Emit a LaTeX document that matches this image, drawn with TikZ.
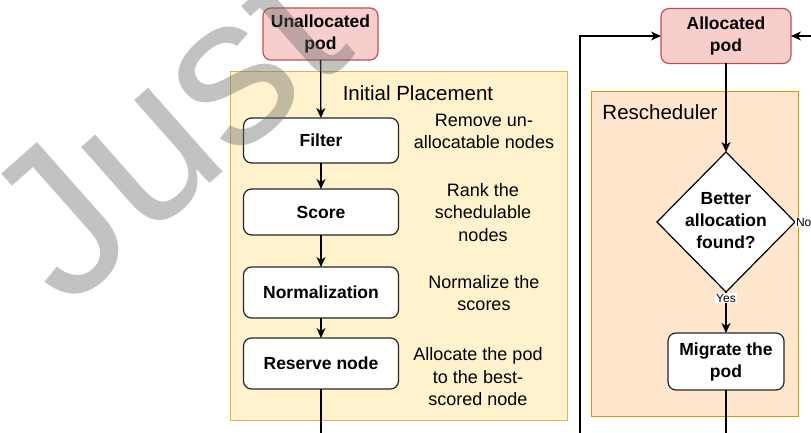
\documentclass[tikz,border=0pt]{standalone}
\usepackage{fontspec}
\setmainfont{Liberation Sans}
\usetikzlibrary{shapes.geometric,arrows.meta}

\definecolor{podfill}{HTML}{F8CECC}
\definecolor{podline}{HTML}{B85450}
\definecolor{initfill}{HTML}{FFF2CC}
\definecolor{initline}{HTML}{D6B656}
\definecolor{reschfill}{HTML}{FFE6CC}
\definecolor{reschline}{HTML}{D79B00}

\tikzset{
  every node/.style={inner sep=0pt, outer sep=0pt},
  boldtxt/.style={font=\fontsize{17.5}{22}\selectfont\bfseries, align=center},
  desc/.style={font=\fontsize{18}{22.5}\selectfont, align=center},
  title/.style={font=\fontsize{20.5}{24}\selectfont},
  small/.style={font=\fontsize{12}{14}\selectfont, fill=white, inner sep=1pt},
  podbox/.style={boldtxt, draw=podline, fill=podfill, line width=1.2pt, rounded corners=8pt},
  stepbox/.style={boldtxt, draw=black!85, fill=white, line width=1.2pt, rounded corners=8pt, minimum width=155pt},
  group/.style={line width=1pt},
  conn/.style={line width=1.3pt, draw=black},
  arr/.style={conn, -{Stealth[length=10pt,width=9pt,inset=3pt]}},
}

\begin{document}
\begin{tikzpicture}[x=1pt, y=-1pt]
  \useasboundingbox (0,0) rectangle (811,433);

  % group containers
  \draw[group, draw=initline, fill=initfill] (230,72) rectangle (567,420);
  \draw[group, draw=reschline, fill=reschfill] (591,92) rectangle (798,416);
  \node[title] (inittitle) at (418,93) {Initial Placement};
  \node[title] (reschtitle) at (660,112) {Rescheduler};

  % initial placement flow
  \node[podbox, minimum width=115pt, minimum height=52pt] (unalloc) at (320.5,34) {Unallocated\\pod};
  \node[stepbox, minimum height=45pt] (filter) at (321,140.5) {Filter};
  \node[stepbox, minimum height=46pt] (score) at (321,212) {Score};
  \node[stepbox, minimum height=51pt] (norm) at (321,292.5) {Normalization};
  \node[stepbox, minimum height=51pt] (reserve) at (321,363.5) {Reserve node};

  \node[desc] (dfilter) at (484,131.5) {Remove un-\\allocatable nodes};
  \node[desc] (dscore) at (483,212.5) {Rank the\\schedulable\\nodes};
  \node[desc] (dnorm) at (484,293) {Normalize the\\scores};
  \node[desc] (dreserve) at (478,377) {Allocate the pod\\to the best-\\scored node};

  \draw[arr] (unalloc) -- (filter);
  \draw[arr] (filter) -- (score);
  \draw[arr] (score) -- (norm);
  \draw[arr] (norm) -- (reserve);
  \coordinate (reserveout) at (321,433);
  \draw[conn] (reserve) -- (reserveout);

  % rescheduler flow
  \node[podbox, minimum width=130pt, minimum height=55pt] (alloc) at (726,36) {Allocated\\pod};
  \node[diamond, draw=black, fill=white, line width=1.2pt, minimum width=138pt, minimum height=140pt] (dec) at (726,222) {};
  \node[boldtxt] (dectext) at (726,221) {Better\\allocation\\found?};
  \node[stepbox, minimum width=116pt, minimum height=57pt] (mig) at (726,361.5) {Migrate the\\pod};

  \draw[arr] (alloc) -- (dec);
  \draw[arr] (dec) -- node[small, pos=0.15] (yes) {Yes} (mig);
  \coordinate (migout) at (726,433);
  \draw[conn] (mig) -- (migout);

  \coordinate (noend) at (811,222);
  \draw[conn] (dec.east) -- (noend);
  \node[small, anchor=west] (no) at (dec.east) {No};

  \coordinate (loopstart) at (580,433);
  \draw[arr] (loopstart) |- (alloc.west);
  \coordinate (rightin) at (811,36);
  \draw[arr] (rightin) -- (alloc.east);

  % watermark
  \node[rotate=41.5, anchor=base west, text=black!60, opacity=0.4,
        font=\fontsize{212}{212}\selectfont] (mark) at (66,311) {Just};
\end{tikzpicture}
\end{document}
